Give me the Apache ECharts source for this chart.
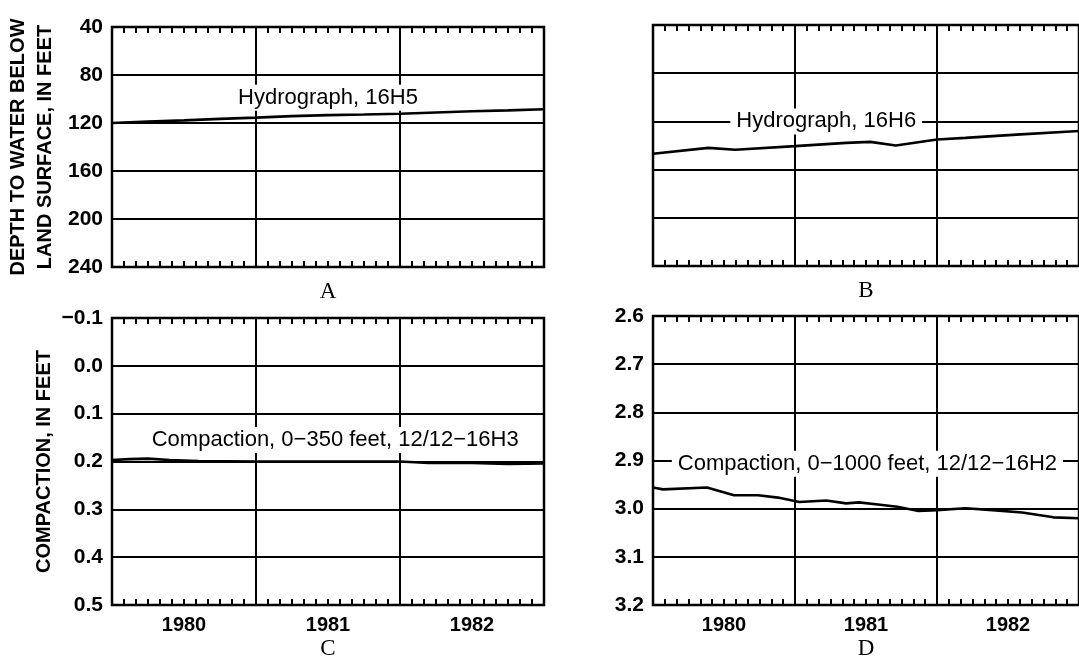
<!DOCTYPE html>
<html><head><meta charset="utf-8">
<script src="https://cdn.jsdelivr.net/npm/echarts@6/dist/echarts.min.js"></script>
<style>html,body{margin:0;padding:0;background:#fff}#c{width:1079px;height:661px}</style>
</head><body><div id="c"></div><script>
// ---- data ----
const yearLabels = ['1980', '1981', '1982'];
const panelLetters = ['A', 'B', 'C', 'D'];

// Hydrograph 16H5 (depth to water, ft)
const h5Time  = [1980.0, 1980.25, 1980.5, 1980.75, 1981.0, 1981.25, 1981.5, 1981.75, 1982.0, 1982.25, 1982.5, 1982.75, 1983.0];
const h5Depth = [120, 118.8, 117.8, 116.6, 115.5, 114.3, 113.4, 112.9, 112.3, 111.2, 110.2, 109.5, 108.6];

// Hydrograph 16H6 (depth to water, ft)
const h6Time  = [1980.0, 1980.39, 1980.58, 1981.0, 1981.36, 1981.53, 1981.71, 1982.0, 1982.2, 1982.56, 1983.0];
const h6Depth = [146.8, 142, 143.5, 140.5, 137.8, 137, 140, 135, 133.7, 131, 128];

// Compaction 0-350 ft, 12/12-16H3 (ft)
const h3Time = [1980.0, 1980.12, 1980.25, 1980.4, 1980.6, 1981.0, 1981.5, 1982.0, 1982.2, 1982.5, 1982.75, 1983.0];
const h3Comp = [0.197, 0.195, 0.194, 0.197, 0.199, 0.200, 0.200, 0.200, 0.203, 0.203, 0.205, 0.204];

// Compaction 0-1000 ft, 12/12-16H2 (ft)
const h2Time = [1980.0, 1980.07, 1980.38, 1980.57, 1980.74, 1980.88, 1981.03, 1981.22, 1981.36, 1981.45, 1981.6, 1981.72, 1981.87, 1982.0, 1982.2, 1982.39, 1982.6, 1982.82, 1983.0];
const h2Comp = [2.956, 2.960, 2.956, 2.972, 2.972, 2.977, 2.986, 2.983, 2.989, 2.987, 2.992, 2.996, 3.005, 3.003, 2.999, 3.003, 3.008, 3.018, 3.020];

const seriesNames = ['Hydrograph, 16H5', 'Hydrograph, 16H6', 'Compaction, 0\u2212350 feet, 12/12\u221216H3', 'Compaction, 0\u22121000 feet, 12/12\u221216H2'];
const labelAnchors = [[1981.5, 99], [1981.22, 120], [1981.55, 0.155], [1981.51, 2.907]];

const yScales = [
  {min: 40, max: 240, interval: 40},
  {min: 40, max: 240, interval: 40},
  {min: -0.1, max: 0.5, interval: 0.1},
  {min: 2.6, max: 3.2, interval: 0.1}
];

// ---- layout ----
const FONT = '"Liberation Sans", Arial, Helvetica, sans-serif';
const SERIF = '"Liberation Serif", "Times New Roman", serif';
const rects = [
  {left: 112, top: 27, width: 432, height: 240},
  {left: 653, top: 25, width: 432, height: 241},
  {left: 112, top: 318, width: 432, height: 287},
  {left: 653, top: 316, width: 432, height: 289}
];
const lineData = [
  h5Time.map((t, k) => [t, h5Depth[k]]),
  h6Time.map((t, k) => [t, h6Depth[k]]),
  h3Time.map((t, k) => [t, h3Comp[k]]),
  h2Time.map((t, k) => [t, h2Comp[k]])
];

const grid = [], xAxis = [], yAxis = [], series = [];
const tickStyle = {color: '#000', width: 2};
const gridLine = {color: '#000', width: 2};

for (let i = 0; i < 4; i++) {
  const r = rects[i];
  grid.push(Object.assign({show: true, borderColor: '#000', borderWidth: 2.5, backgroundColor: 'transparent'}, r));
  grid.push(Object.assign({show: false}, r));
  const g = i * 2;
  // bottom value axis (monthly ticks + year grid lines)
  xAxis.push({
    type: 'value', gridIndex: g, position: 'bottom', min: 1980, max: 1983, interval: 1,
    axisLine: {show: false, onZero: false},
    axisTick: {show: true, inside: true, length: 6, lineStyle: tickStyle},
    minorTick: {show: true, splitNumber: 12, length: 6, lineStyle: tickStyle},
    axisLabel: {show: false},
    splitLine: {show: true, lineStyle: gridLine},
    minorSplitLine: {show: false}
  });
  // top value axis (monthly ticks)
  xAxis.push({
    type: 'value', gridIndex: g, position: 'top', min: 1980, max: 1983, interval: 1,
    axisLine: {show: false, onZero: false},
    axisTick: {show: true, inside: true, length: 6, lineStyle: tickStyle},
    minorTick: {show: true, splitNumber: 12, length: 6, lineStyle: tickStyle},
    axisLabel: {show: false},
    splitLine: {show: false}
  });
  // overlay category axis for year labels and panel letter
  xAxis.push({
    type: 'category', gridIndex: g + 1, position: 'bottom', data: yearLabels, boundaryGap: true,
    axisLine: {show: false, onZero: false}, axisTick: {show: false}, splitLine: {show: false},
    axisLabel: {show: i >= 2, fontSize: 20, fontWeight: 'bold', color: '#000', fontFamily: FONT, margin: 27},
    name: panelLetters[i], nameLocation: 'middle', nameGap: i < 2 ? 13 : 49,
    nameTextStyle: {fontFamily: SERIF, fontSize: 23, color: '#000', verticalAlign: 'top'}
  });
  const ys = yScales[i];
  const yName = i === 0 ? 'DEPTH TO WATER BELOW\nLAND SURFACE, IN FEET' : (i === 2 ? 'COMPACTION, IN FEET' : '');
  yAxis.push({
    type: 'value', gridIndex: g, inverse: true, min: ys.min, max: ys.max, interval: ys.interval,
    axisLine: {show: false}, axisTick: {show: false},
    splitLine: {show: true, lineStyle: gridLine},
    axisLabel: {
      show: i !== 1, fontSize: 21, fontWeight: 'bold', color: '#000', fontFamily: FONT, margin: 9,
      formatter: function (v) {
        if (i < 2) return String(Math.round(v));
        const r2 = Math.round(v * 10) / 10;
        return (r2 < 0 ? '\u2212' : '') + Math.abs(r2).toFixed(1);
      }
    },
    name: yName, nameLocation: 'middle', nameRotate: 90, nameGap: i === 0 ? 53 : 52,
    nameTextStyle: {fontFamily: FONT, fontSize: 20, fontWeight: 'bold', color: '#000', lineHeight: 27}
  });
  yAxis.push({type: 'value', gridIndex: g + 1, show: false, min: 0, max: 1});

  series.push({
    type: 'line', name: seriesNames[i], xAxisIndex: i * 3, yAxisIndex: i * 2,
    data: lineData[i], showSymbol: false, symbol: 'none', smooth: false,
    lineStyle: {color: '#000', width: 2.6}, z: 3, animation: false
  });
  series.push({
    type: 'scatter', xAxisIndex: i * 3, yAxisIndex: i * 2,
    data: [labelAnchors[i]], symbolSize: 0, itemStyle: {color: '#fff', opacity: 1},
    label: {
      show: true, position: 'inside', formatter: seriesNames[i],
      fontFamily: FONT, fontSize: 22, color: '#000', textBorderWidth: 0,
      backgroundColor: '#fff', padding: [2, 6]
    },
    emphasis: {disabled: true},
    z: 5, animation: false, silent: true
  });
}

const chart = echarts.init(document.getElementById('c'), null, {renderer: 'canvas'});
chart.setOption({animation: false, backgroundColor: '#fff', grid, xAxis, yAxis, series});
</script></body></html>
